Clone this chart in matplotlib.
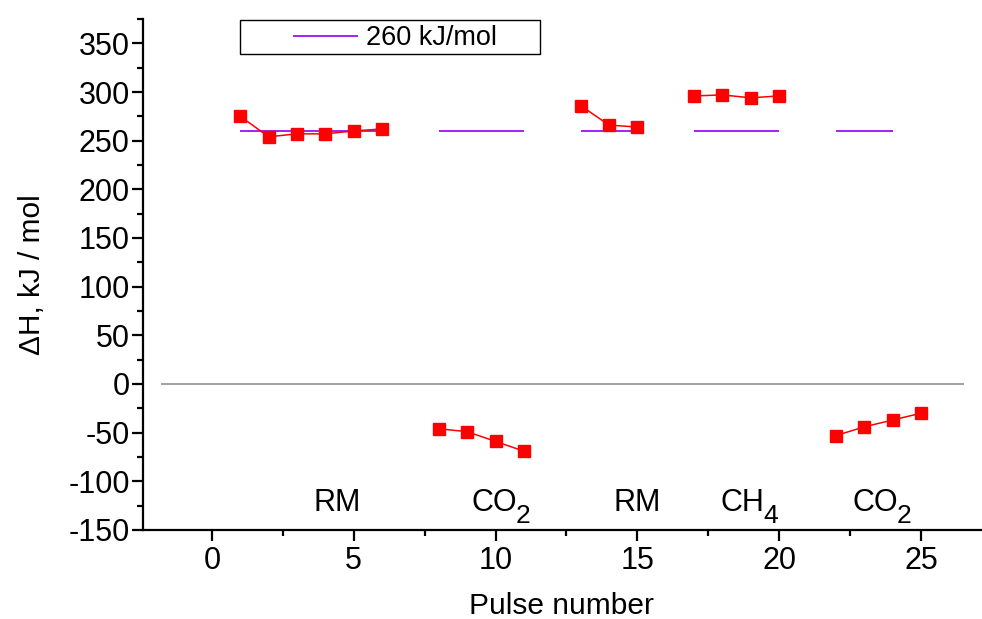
import matplotlib.pyplot as plt
from matplotlib.ticker import MultipleLocator
from matplotlib.patches import Rectangle

plt.rcParams['font.family'] = ['Liberation Sans', 'DejaVu Sans']
plt.rcParams['axes.unicode_minus'] = False

# measured enthalpy per pulse, grouped by gas
pulses_rm1 = [1, 2, 3, 4, 5, 6]
dh_rm1 = [275, 254, 257, 257, 260, 262]
pulses_co2a = [8, 9, 10, 11]
dh_co2a = [-46, -49, -59, -69]
pulses_rm2 = [13, 14, 15]
dh_rm2 = [286, 266, 264]
pulses_ch4 = [17, 18, 19, 20]
dh_ch4 = [296, 297, 294, 296]
pulses_co2b = [22, 23, 24, 25]
dh_co2b = [-53, -44, -37, -30]

# reference level segments
ref_value = 260
ref_starts = [1, 8, 13, 17, 22]
ref_ends = [6, 11, 15, 20, 24]

# gas names (main part, subscript) and where they sit
gas_main = ['RM', 'CO', 'RM', 'CH', 'CO']
gas_sub = ['', '2', '', '4', '2']
gas_x = [4.4, 9.95, 15.0, 18.7, 23.4]

fig = plt.figure(figsize=(9.82, 6.19), dpi=100)
ax = fig.add_axes([0.1456, 0.1438, 0.853, 0.8255])

violet = '#9a10f5'
ax.hlines(0, -1.8, 26.5, color='#999999', lw=1.3, zorder=1)
for i in range(len(ref_starts)):
    ax.hlines(ref_value, ref_starts[i], ref_ends[i], color=violet, lw=1.3,
              zorder=2, label='260 kJ/mol' if i == 0 else None)

for xs, ys in [(pulses_rm1, dh_rm1), (pulses_co2a, dh_co2a), (pulses_rm2, dh_rm2),
               (pulses_ch4, dh_ch4), (pulses_co2b, dh_co2b)]:
    ax.plot(xs, ys, color='red', lw=1.1, marker='s', ms=9,
            markerfacecolor='red', markeredgecolor='red', zorder=3)

for m, s, xl in zip(gas_main, gas_sub, gas_x):
    t = ax.text(xl, -131, m, ha='center', va='baseline', fontsize=22)
    if s:
        ax.annotate(s, xy=(1, 0), xycoords=t, xytext=(-1, -3),
                    textcoords='offset points', ha='left', va='baseline',
                    fontsize=19)

ax.set_xlim(-2.43, 27.1)
ax.set_ylim(-150, 375)
ax.xaxis.set_major_locator(MultipleLocator(5))
ax.xaxis.set_minor_locator(MultipleLocator(2.5))
ax.yaxis.set_minor_locator(MultipleLocator(25))
ax.set_yticks(range(-150, 351, 50))

for s in ['top', 'right']:
    ax.spines[s].set_visible(False)
for s in ['left', 'bottom']:
    ax.spines[s].set_linewidth(1.6)
ax.tick_params(which='major', direction='out', length=8, width=1.6, labelsize=22)
ax.tick_params(which='minor', direction='out', length=4.5, width=1.6)
ax.tick_params(axis='y', which='major', pad=1.5)

ax.set_xlabel('Pulse number', fontsize=21.5)
ax.set_ylabel('ΔH, kJ / mol', fontsize=21.5)
ax.xaxis.set_label_coords(0.5, -0.122)
ax.yaxis.set_label_coords(-0.116, 0.5)

leg = fig.legend(loc='center left', bbox_to_anchor=(293 / 982, 1 - 38 / 619),
                 fontsize=19.5, frameon=False, handlelength=2.4,
                 borderpad=0, handletextpad=0.3, borderaxespad=0)
fig.patches.append(Rectangle((240 / 982, 1 - 54 / 619), 300 / 982, 34 / 619,
                             transform=fig.transFigure, fill=False,
                             edgecolor='black', lw=1.0))

fig.savefig('out.png', dpi=100)
